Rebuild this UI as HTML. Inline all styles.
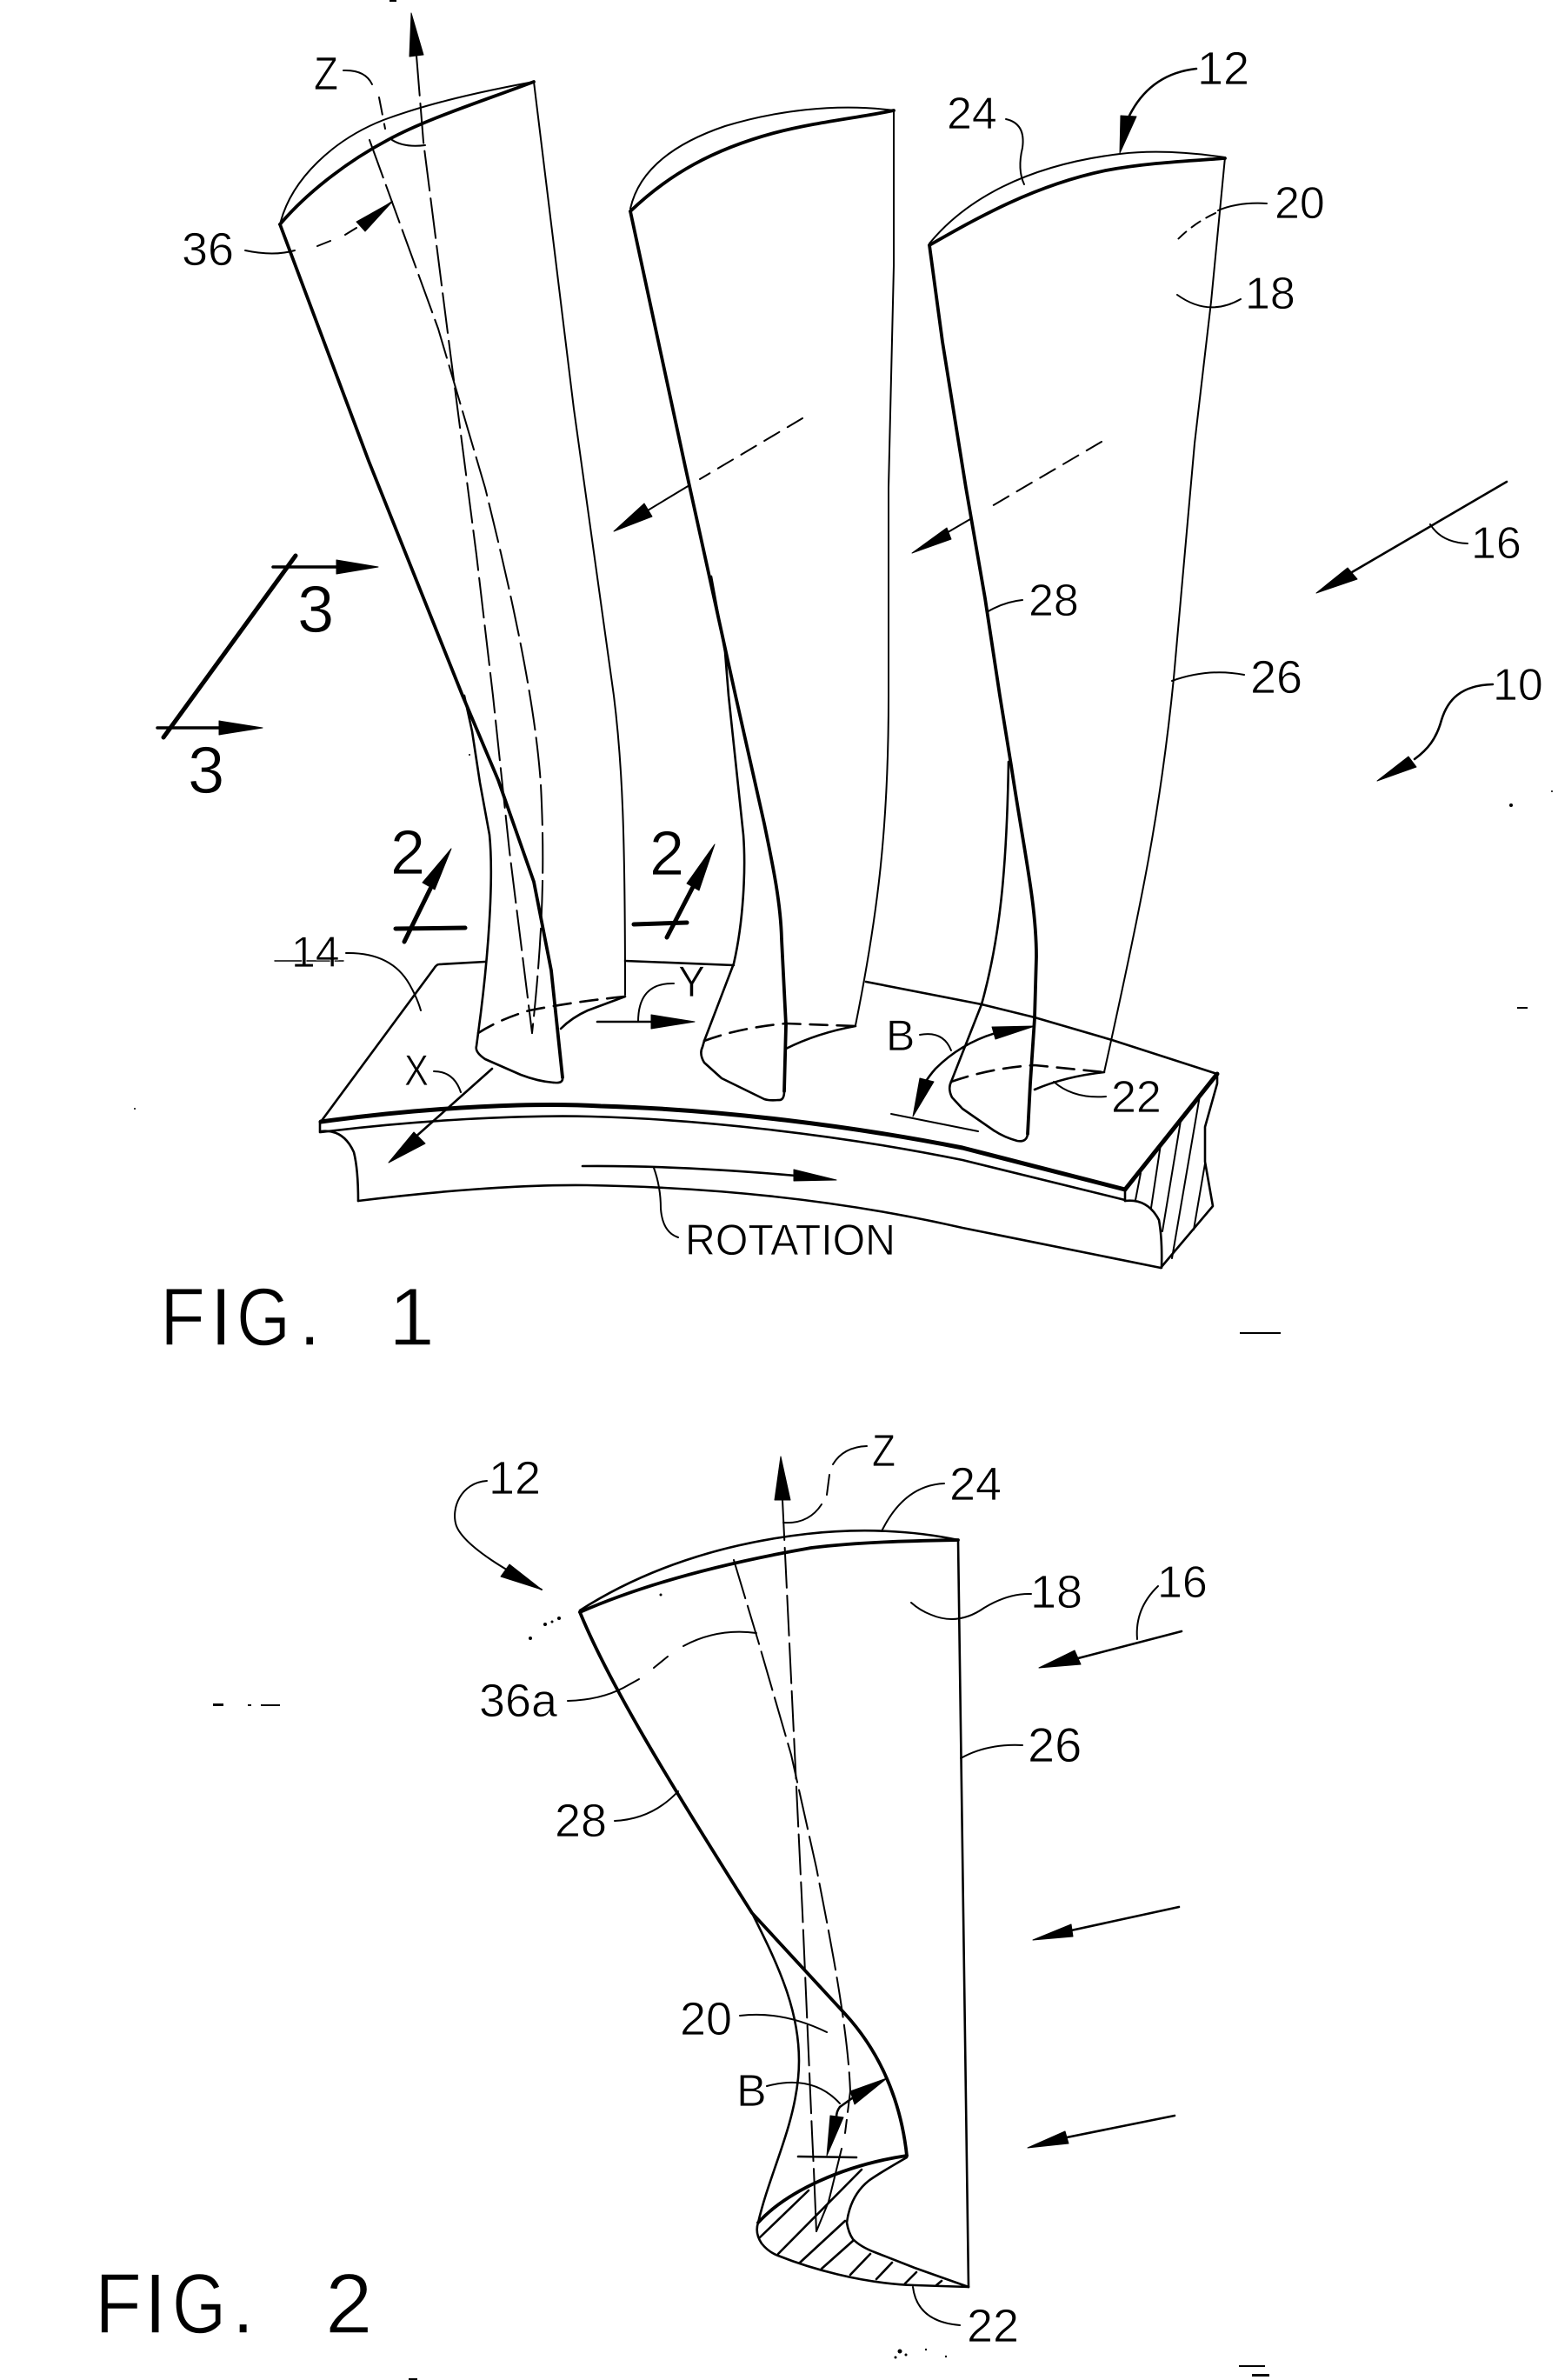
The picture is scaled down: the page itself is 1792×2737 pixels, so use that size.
<!DOCTYPE html>
<html><head><meta charset="utf-8"><title>FIG. 1 and FIG. 2</title>
<style>
html,body{margin:0;padding:0;background:#fff}
svg{display:block}
text{font-family:"Liberation Sans",sans-serif;fill:#000;stroke:#fff;stroke-width:.8}
.f{stroke-width:1.4}
.t{fill:none;stroke:#000;stroke-width:2;stroke-linejoin:round;stroke-linecap:round}
.m{fill:none;stroke:#000;stroke-width:2.6;stroke-linejoin:round;stroke-linecap:round}
.k{fill:none;stroke:#000;stroke-width:3.8;stroke-linejoin:round;stroke-linecap:round}
.x{fill:none;stroke:#000;stroke-width:5;stroke-linecap:round;stroke-linejoin:round}
.c{stroke-dasharray:46 9}
.d{stroke-dasharray:26 14}
.s{stroke-dasharray:20 11}
polygon{fill:#000;stroke:#000;stroke-width:1;stroke-linejoin:round}
</style></head><body>
<svg width="1792" height="2737" viewBox="0 0 1792 2737" xmlns="http://www.w3.org/2000/svg">
<rect width="1792" height="2737" fill="#fff"/>

<!-- FIG 1 blade 1 -->
<path class="t" d="M322,258 C335,205 385,160 441,138 C495,118 555,105 614,94"/>
<path class="k" d="M322,258 C350,225 395,188 446,161 C490,137 550,118 614,94"/>
<polyline class="k" points="322,258 424,530 532,800 573,897 614,1014 634,1116 647,1239"/>
<path class="m" d="M647,1239 Q648,1246 638,1245 Q620,1244 599,1236 L558,1218 Q546,1210 548,1203 L550,1188 C562,1100 568,1010 563,960 L552,900 L543,841 L534,800"/>
<path class="t" d="M614,94 L660,470 L706,800 C716,880 719,960 719,1144"/>
<path class="m s" d="M550,1188 Q575,1172 609,1162 Q660,1152 719,1146"/>
<path class="m" d="M645,1183 Q658,1170 676,1162 L719,1146"/>
<polyline class="t c" points="479,64 487,163 515,383 548,638 567,800 586,979 612,1188"/>
<path class="t c" d="M425,161 L504,378 L558,561 C585,670 615,800 622,902 C626,980 626,1060 612,1188"/>
<polygon points="473,15 471,65 487,63"/>
<path class="t" d="M395,81 Q420,80 428,97"/>
<path class="t s" d="M436,112 L443,148"/>
<path class="t" d="M451,161 Q465,170 489,167"/>
<path class="t" d="M282,288 Q315,295 339,288"/>
<path class="t" d="M365,283 L380,277 M397,270 L410,262 M425,250 L451,232"/>
<polygon points="451,232 410,255 420,266"/>

<!-- FIG 1 blade 2 -->
<path class="t" d="M725,240 C735,195 775,165 834,145 C890,128 960,118 1028,127"/>
<path class="k" d="M725,243 C770,200 820,172 890,153 C940,140 990,135 1028,127"/>
<path class="k" d="M725,243 L788,536 L846,800 L879,947 C890,1000 898,1040 899,1080 L904,1179 L902,1255"/>
<path class="m" d="M902,1255 Q902,1266 895,1265 Q885,1266 879,1264 L830,1240 L810,1222 Q804,1212 808,1204 L810,1197 L844,1108 C855,1060 858,1000 855,960 L838,800 L834,750 L818,663"/>
<path class="t" d="M1028,127 L1028,306 L1022,561 L1022,800 C1022,950 1010,1050 984,1179"/>
<path class="m s" d="M810,1197 Q850,1182 904,1177 L984,1180"/>
<path class="m" d="M904,1206 Q940,1188 984,1180"/>
<polyline class="t s" points="923,481 805,551"/>
<line class="t" x1="793" y1="558" x2="740" y2="590"/>
<polygon points="706,611 741,579 750,594"/>

<!-- FIG 1 blade 3 -->
<path class="t" d="M1069,280 C1110,230 1180,190 1288,177 C1330,172 1375,176 1409,181"/>
<path class="k" d="M1069,282 C1125,250 1190,213 1272,196 C1320,187 1370,185 1409,182"/>
<path class="k" d="M1069,282 L1084,393 L1111,561 L1133,688 L1150,800 L1163,880 C1178,980 1192,1040 1192,1100 L1190,1171 L1185,1246 L1182,1304"/>
<path class="m" d="M1182,1304 Q1181,1314 1170,1312 Q1155,1308 1143,1300 L1107,1275 L1095,1262 Q1090,1252 1094,1244 L1129,1155 C1150,1080 1158,1000 1160,876"/>
<path class="t" d="M1409,181 L1393,347 L1374,510 L1350,780 C1335,930 1315,1030 1270,1233"/>
<path class="m s" d="M1094,1244 Q1140,1228 1190,1225 L1270,1233"/>
<path class="m" d="M1190,1253 Q1225,1238 1270,1233"/>
<polyline class="t s" points="1267,508 1134,586"/>
<line class="t" x1="1116" y1="597" x2="1080" y2="618"/>
<polygon points="1049,636 1089,607 1094,620"/>

<!-- platform -->
<path class="m" d="M369,1290 L499,1114 Q502,1109 505,1109 L558,1106"/>
<polyline class="m" points="719,1105 844,1110"/>
<polyline class="m" points="996,1129 1129,1155 1190,1170 1279,1196 1400,1235"/>
<path class="x" d="M369,1290 C500,1272 620,1268 691,1272 C830,1276 980,1295 1107,1320 L1294,1368"/>
<path class="m" d="M369,1302 C480,1288 600,1282 680,1284 C800,1287 960,1304 1107,1334 L1294,1380"/>
<line class="m" x1="368" y1="1290" x2="368" y2="1302"/>
<path class="m" d="M369,1301 Q395,1298 407,1325 Q412,1345 412,1381"/>
<path class="m" d="M412,1381 C500,1370 600,1362 675,1363 C800,1365 950,1376 1107,1412 L1335,1458"/>
<line class="x" x1="1294" y1="1368" x2="1400" y2="1235"/>
<line class="m" x1="1294" y1="1368" x2="1294" y2="1381"/>
<path class="m" d="M1294,1381 Q1320,1378 1333,1403 Q1337,1425 1336,1458"/>
<path class="m" d="M1400,1235 L1400,1246 L1386,1296 L1386,1336 L1395,1387 L1335,1458"/>
<path class="t" d="M1312,1349 L1306,1380 M1335,1316 L1324,1389 M1358,1289 L1337,1416 M1380,1260 L1348,1447 M1386,1338 L1373,1414"/>

<!-- FIG 1 annotations -->
<line class="x" x1="340" y1="639" x2="188" y2="848"/>
<line class="m" x1="314" y1="652" x2="390" y2="652" style="stroke-width:3.5"/>
<polygon points="435,652 387,644 387,660"/>
<line class="m" x1="181" y1="837" x2="255" y2="837" style="stroke-width:3.5"/>
<polygon points="302,837 252,829 252,845"/>
<line class="x" x1="455" y1="1068" x2="535" y2="1067"/>
<line class="x" x1="465" y1="1083" x2="495" y2="1022"/>
<polygon points="519,976 486,1015 500,1023"/>
<line class="x" x1="729" y1="1063" x2="790" y2="1061"/>
<line class="x" x1="767" y1="1078" x2="798" y2="1018"/>
<polygon points="822,971 790,1016 804,1024"/>
<line class="t" x1="316" y1="1105" x2="395" y2="1105" style="stroke-width:1.4"/>
<path class="t" d="M398,1096 Q450,1095 471,1132 Q480,1148 484,1162"/>
<path class="t" d="M775,1131 Q734,1130 734,1175"/>
<line class="m" x1="687" y1="1175" x2="752" y2="1175"/>
<polygon points="799,1175 749,1167 749,1183"/>
<path class="t" d="M499,1232 Q522,1232 530,1256"/>
<line class="m" x1="566" y1="1229" x2="475" y2="1310"/>
<polygon points="447,1337 476,1302 489,1315"/>
<path class="m" d="M670,1341 Q780,1340 915,1352"/>
<polygon points="962,1357 913,1345 913,1358"/>
<path class="t" d="M752,1343 Q760,1365 760,1390 Q762,1417 780,1423"/>
<path class="t" d="M1058,1190 Q1085,1185 1094,1208"/>
<path class="m" d="M1145,1188 Q1105,1200 1076,1229 Q1062,1245 1058,1258"/>
<polygon points="1190,1180 1141,1181 1145,1195"/>
<polygon points="1050,1284 1058,1240 1074,1244"/>
<line class="t" x1="1025" y1="1281" x2="1125" y2="1301"/>
<path class="t" d="M1272,1261 Q1235,1264 1212,1244"/>
<path class="m" d="M1376,79 Q1322,85 1298,135"/>
<polygon points="1288,176 1289,133 1307,134"/>
<path class="t" d="M1157,137 Q1180,142 1176,170 Q1170,195 1178,212"/>
<path class="t" d="M1457,234 Q1425,232 1401,242"/>
<path class="t" d="M1398,245 Q1372,257 1352,278" style="stroke-dasharray:12 8"/>
<path class="t" d="M1354,339 Q1390,365 1427,344"/>
<path class="t" d="M1176,690 Q1155,692 1135,704"/>
<path class="t" d="M1431,776 Q1390,768 1348,783"/>
<line class="m" x1="1733" y1="554" x2="1555" y2="658"/>
<polygon points="1514,682 1550,653 1561,666"/>
<path class="t" d="M1645,603 Q1658,624 1688,625"/>
<path class="m" d="M1717,787 C1680,788 1665,805 1658,828 C1652,850 1642,862 1627,873"/>
<polygon points="1584,898 1620,870 1629,882"/>

<!-- FIG 2 -->
<path class="m" d="M667,1852 C740,1805 830,1775 928,1764 C990,1757 1050,1760 1102,1771"/>
<path class="k" d="M667,1854 C740,1822 830,1798 933,1780 C990,1773 1050,1772 1102,1771"/>
<polyline class="m" points="1102,1771 1108,2200 1114,2630"/>
<path class="k" d="M667,1854 C700,1935 770,2050 865,2200 L972,2316 C1005,2352 1035,2405 1043,2479"/>
<path class="k" d="M1043,2479 C970,2490 905,2520 872,2556"/>
<path class="m" d="M865,2200 C895,2260 925,2320 918,2390 C912,2450 885,2500 872,2556"/>
<path class="m" d="M872,2556 Q868,2568 876,2580 Q884,2590 895,2594 C930,2608 990,2626 1052,2628 L1114,2630"/>
<path class="m" d="M1043,2481 Q1010,2500 999,2508 Q978,2525 974,2556 Q976,2568 981,2575 Q990,2584 1006,2590 L1052,2608 L1114,2630"/>
<path class="m" d="M874,2573 L930,2519 M895,2592 L991,2495 M920,2602 L972,2554 M945,2609 L981,2577 M978,2616 L1001,2592 M1008,2621 L1026,2602 M1041,2626 L1054,2613 M1077,2628 L1083,2623"/>
<polyline class="t c" points="900,1725 923,2200 934,2453 936,2495"/>
<polyline class="t" points="936,2495 939,2566"/>
<path class="t c" d="M844,1794 L872,1887 L910,2018 L939,2148 C955,2230 975,2330 978,2405 L972,2453"/>
<polyline class="t" points="968,2471 953,2532 939,2566"/>
<polygon points="898,1675 891,1725 909,1725"/>
<path class="t" d="M901,1751 Q930,1753 945,1730"/>
<path class="t" d="M951,1719 L954,1696" />
<path class="t" d="M958,1684 Q970,1664 997,1663"/>
<path class="t" d="M1086,1706 Q1040,1708 1014,1761"/>
<path class="t" d="M560,1703 C530,1705 518,1735 525,1755 C535,1780 590,1810 623,1828"/>
<polygon points="623,1828 586,1799 576,1813"/>
<path class="t" d="M653,1956 Q690,1955 717,1941 L735,1931"/>
<line class="t" x1="752" y1="1918" x2="768" y2="1905"/>
<path class="t" d="M786,1893 Q825,1872 870,1878"/>
<path class="t" d="M1186,1833 Q1160,1832 1132,1849 Q1102,1870 1071,1857 Q1058,1852 1048,1843"/>
<path class="t" d="M1176,2007 Q1135,2005 1105,2022"/>
<path class="t" d="M707,2094 Q750,2092 780,2060"/>
<line class="m" x1="1359" y1="1876" x2="1240" y2="1907"/>
<polygon points="1195,1918 1236,1898 1243,1914"/>
<path class="t" d="M1332,1824 Q1305,1850 1308,1885"/>
<line class="m" x1="1356" y1="2193" x2="1232" y2="2220"/>
<polygon points="1188,2231 1232,2213 1234,2227"/>
<line class="m" x1="1351" y1="2433" x2="1227" y2="2458"/>
<polygon points="1182,2470 1225,2451 1229,2465"/>
<path class="t" d="M851,2318 Q900,2312 951,2337"/>
<path class="t" d="M882,2399 Q935,2385 966,2419"/>
<line class="m" x1="980" y1="2413" x2="966" y2="2423"/>
<path class="m" d="M966,2423 Q962,2428 962,2435"/>
<polygon points="1020,2390 978,2405 983,2420"/>
<polygon points="951,2479 955,2433 970,2435"/>
<line class="m" x1="918" y1="2480" x2="985" y2="2481"/>
<path class="t" d="M1050,2630 Q1055,2670 1104,2674"/>

<!-- specks -->
<g fill="#000">
<circle cx="1738" cy="926" r="2"/><circle cx="1785" cy="910" r="1"/>
<rect x="1745" y="1158" width="12" height="2"/>
<rect x="1426" y="1532" width="47" height="2"/>
<circle cx="610" cy="1884" r="2"/><circle cx="627" cy="1868" r="2"/><circle cx="643" cy="1861" r="2"/><circle cx="635" cy="1865" r="1.5"/><circle cx="760" cy="1834" r="1.5"/>
<rect x="245" y="1959" width="12" height="3"/><rect x="285" y="1960" width="4" height="2"/><rect x="300" y="1960" width="22" height="2"/>
<circle cx="1035" cy="2704" r="2.5"/><circle cx="1030" cy="2711" r="1.5"/><circle cx="1042" cy="2708" r="1.5"/><circle cx="1065" cy="2702" r="1.2"/><circle cx="1088" cy="2710" r="1.2"/>
<rect x="470" y="2735" width="10" height="2"/><rect x="1425" y="2720" width="30" height="2"/>
<rect x="1440" y="2730" width="20" height="3"/>
<circle cx="155" cy="1275" r="1"/><circle cx="540" cy="868" r="1"/>
<rect x="448" y="0" width="8" height="2"/>
</g>

<!-- labels -->
<text x="361" y="103" font-size="54" textLength="28" lengthAdjust="spacingAndGlyphs">Z</text>
<text x="209" y="305" font-size="54">36</text>
<text x="342" y="727" font-size="76">3</text>
<text x="216" y="912" font-size="76">3</text>
<text x="449" y="1005" font-size="72">2</text>
<text x="747" y="1006" font-size="72">2</text>
<text x="335" y="1112" font-size="50">14</text>
<text x="780" y="1146" font-size="50" textLength="31" lengthAdjust="spacingAndGlyphs">Y</text>
<text x="465" y="1248" font-size="50" textLength="28" lengthAdjust="spacingAndGlyphs">X</text>
<text x="1019" y="1208" font-size="50">B</text>
<text x="1278" y="1279" font-size="52">22</text>
<text x="788" y="1443" font-size="50" textLength="242" lengthAdjust="spacingAndGlyphs">ROTATION</text>
<text x="1377" y="97" font-size="54">12</text>
<text x="1089" y="148" font-size="52">24</text>
<text x="1466" y="251" font-size="52">20</text>
<text x="1432" y="355" font-size="52">18</text>
<text x="1183" y="708" font-size="52">28</text>
<text x="1438" y="797" font-size="54">26</text>
<text x="1692" y="642" font-size="52">16</text>
<text x="1717" y="805" font-size="52">10</text>

<text class="f" x="184" y="1547" font-size="95" textLength="52" lengthAdjust="spacingAndGlyphs">F</text>
<text class="f" x="241" y="1547" font-size="95">I</text>
<text class="f" x="272" y="1547" font-size="95" textLength="62" lengthAdjust="spacingAndGlyphs">G</text>
<text class="f" x="343" y="1547" font-size="95">.</text>
<text class="f" x="447" y="1547" font-size="95">1</text>

<text x="1003" y="1686" font-size="52" textLength="27" lengthAdjust="spacingAndGlyphs">Z</text>
<text x="1092" y="1725" font-size="54">24</text>
<text x="562" y="1718" font-size="54">12</text>
<text x="1185" y="1849" font-size="54">18</text>
<text x="1331" y="1837" font-size="52">16</text>
<text x="551" y="1974" font-size="54" textLength="90" lengthAdjust="spacingAndGlyphs">36a</text>
<text x="1182" y="2026" font-size="56">26</text>
<text x="638" y="2112" font-size="54">28</text>
<text x="782" y="2340" font-size="54">20</text>
<text x="847" y="2422" font-size="52">B</text>
<text x="1112" y="2693" font-size="54">22</text>

<text class="f" x="109" y="2683" font-size="98" textLength="54" lengthAdjust="spacingAndGlyphs">F</text>
<text class="f" x="165" y="2683" font-size="98">I</text>
<text class="f" x="198" y="2683" font-size="98" textLength="62" lengthAdjust="spacingAndGlyphs">G</text>
<text class="f" x="266" y="2683" font-size="98">.</text>
<text class="f" x="374" y="2683" font-size="98">2</text>
</svg>
</body></html>
